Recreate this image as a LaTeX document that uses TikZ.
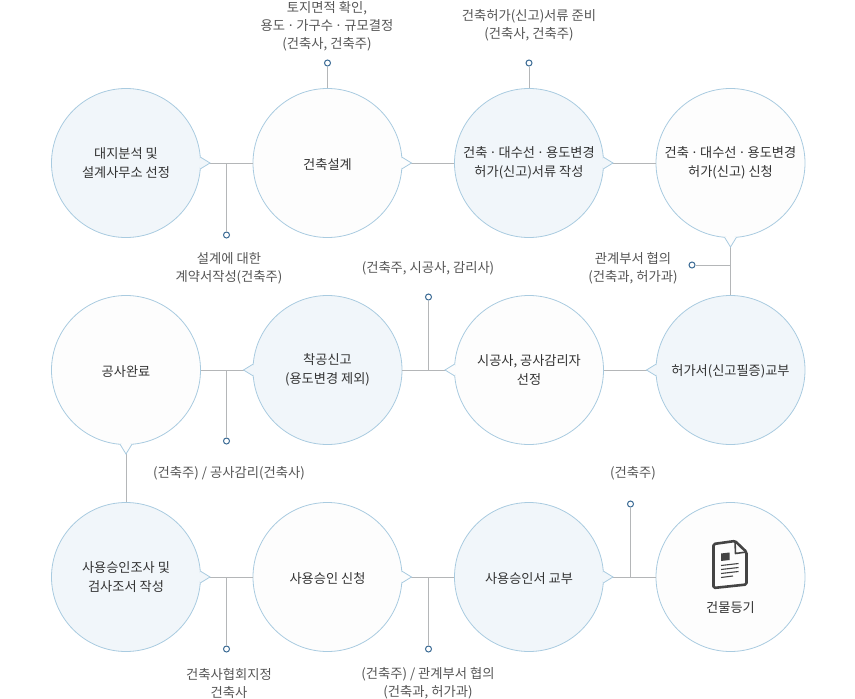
\documentclass[tikz,border=0pt]{standalone}
\usepackage{fontspec}
\setmainfont{Noto Sans CJK KR}
\usepackage{tikz}
\definecolor{ringblue}{HTML}{A9CBE0}
\definecolor{paleblue}{HTML}{F1F6FA}
\definecolor{paperwhite}{HTML}{FDFDFD}
\definecolor{linegray}{HTML}{B4B6B8}
\definecolor{dotblue}{HTML}{3A6A94}
\definecolor{notegray}{HTML}{555555}
\definecolor{maintext}{HTML}{333333}
\definecolor{iconink}{HTML}{444444}
\tikzstyle{stage} = [circle, minimum size = 149pt, inner sep = 0pt, align = center, draw = ringblue, line width = 0.8pt, text = maintext, font = \fontsize{13.2}{19}\selectfont, execute at begin node = {\rule{0pt}{14pt}}]
\tikzstyle{tinted} = [stage, fill = paleblue]
\tikzstyle{plain} = [stage, fill = paperwhite]
\tikzstyle{dot} = [circle, minimum size = 6pt, inner sep = 0pt, draw = dotblue, line width = 1pt, fill = white]
\tikzstyle{note} = [align = center, inner sep = 0pt, text = notegray, font = \fontsize{13.3}{18}\selectfont]
\tikzstyle{link} = [draw = linegray, line width = 0.9pt]
\newcommand{\middot}{\kern-1.1pt~·~\kern-1.1pt}
% speech bubble point: node, direction, fill colour
\newcommand{\bubbletip}[3]{
\fill [#3] ([shift={(#2+4.6:74.5)}]#1.center) -- ([shift={(#2:84)}]#1.center) -- ([shift={(#2-4.6:74.5)}]#1.center) -- ([shift={(#2:72)}]#1.center) -- cycle;
\draw [ringblue, line width = 0.8pt] ([shift={(#2+4.6:74.5)}]#1.center) -- ([shift={(#2:84)}]#1.center) -- ([shift={(#2-4.6:74.5)}]#1.center);
}

\begin{document}
\begin{tikzpicture}[x = 1pt, y = -1pt, node distance = 201.5pt]
\useasboundingbox (0,0) rectangle (855,699);

\node(survey) [tinted] at (126,163) {대지분석 및\\설계사무소 선정};
\node(design) [plain, right of = survey] {건축설계};
\node(papers) [tinted, right of = design] {건축\middot 대수선\middot 용도변경\\허가(신고)서류 작성};
\node(apply) [plain, right of = papers] {건축\middot 대수선\middot 용도변경\\허가(신고) 신청};

\node(permit) [tinted, below of = apply, node distance = 207pt] {허가서(신고필증)교부};
\node(contractor) [plain, left of = permit] {시공사, 공사감리자\\선정};
\node(start) [tinted, left of = contractor] {착공신고\\(용도변경 제외)};
\node(finish) [plain, left of = start] {공사완료};

\node(inspect) [tinted, below of = finish, node distance = 207pt] {사용승인조사 및\\검사조서 작성};
\node(request) [plain, right of = inspect] {사용승인 신청};
\node(grant) [tinted, right of = request] {사용승인서 교부};
\node(register) [plain, right of = grant] {};
\node(registertext) [stage, draw = none, minimum size = 0pt] at (730.5,606) {건물등기};

\node(dotcontract) [dot] at (226.5,235) {};
\node(dotland) [dot] at (327.5,63) {};
\node(dotpapers) [dot] at (529,63) {};
\node(dotoffice) [dot] at (692,265) {};
\node(dotbuilder) [dot] at (428.5,297) {};
\node(dotsuper) [dot] at (226.5,441) {};
\node(dotowner) [dot] at (630.5,504) {};
\node(dotarch) [dot] at (226.5,649) {};
\node(dotrequest) [dot] at (428.5,649) {};

\node(notecontract) [note] at (229,268.5) {설계에 대한\\계약서작성(건축주)};
\node(noteland) [note] at (327,26.5) {토지면적 확인,\\용도\middot 가구수\middot 규모결정\\(건축사, 건축주)};
\node(notepapers) [note] at (529,25.5) {건축허가(신고)서류 준비\\(건축사, 건축주)};
\node(noteoffice) [note] at (633,268.5) {관계부서 협의\\(건축과, 허가과)};
\node(notebuilder) [note] at (428,268.5) {(건축주, 시공사, 감리사)};
\node(notesuper) [note] at (229,473.5) {(건축주) / 공사감리(건축사)};
\node(noteowner) [note] at (633,473.5) {(건축주)};
\node(notearch) [note] at (229,683.5) {건축사협회지정\\건축사};
\node(noterequest) [note] at (428,683.5) {(건축주) / 관계부서 협의\\(건축과, 허가과)};

\draw [link] (survey) -- (design);
\draw [link] (design) -- (papers);
\draw [link] (papers) -- (apply);
\draw [link] (apply) -- (permit);
\draw [link] (permit) -- (contractor);
\draw [link] (contractor) -- (start);
\draw [link] (start) -- (finish);
\draw [link] (finish) -- (inspect);
\draw [link] (inspect) -- (request);
\draw [link] (request) -- (grant);
\draw [link] (grant) -- (register);

\draw [link] (dotcontract) -- (dotcontract |- survey.east);
\draw [link] (dotland) -- (design.north);
\draw [link] (dotpapers) -- (papers.north);
\draw [link] (dotoffice) -- (dotoffice -| apply.south);
\draw [link] (dotbuilder) -- (dotbuilder |- start.east);
\draw [link] (dotsuper) -- (dotsuper |- start.west);
\draw [link] (dotowner) -- (dotowner |- grant.east);
\draw [link] (dotarch) -- (dotarch |- inspect.east);
\draw [link] (dotrequest) -- (dotrequest |- request.east);

\bubbletip{survey}{0}{paleblue}
\bubbletip{design}{0}{paperwhite}
\bubbletip{papers}{0}{paleblue}
\bubbletip{apply}{90}{paperwhite}
\bubbletip{permit}{180}{paleblue}
\bubbletip{contractor}{180}{paperwhite}
\bubbletip{start}{180}{paleblue}
\bubbletip{finish}{90}{paperwhite}
\bubbletip{inspect}{0}{paleblue}
\bubbletip{request}{0}{paperwhite}
\bubbletip{grant}{0}{paleblue}

% document icon
\draw [iconink, line width = 2.6pt, line join = round, rounded corners = 1.5pt] (713.5,544) -- (735,541) -- (746.5,552) -- (746.5,584.5) -- (713.5,588) -- cycle;
\draw [iconink, line width = 1.6pt, line join = round] (735,541) -- (735.5,553.5) -- (746.5,552);
\fill [iconink] (721,553.5) -- (729.5,552.5) -- (729.5,560) -- (721,561) -- cycle;
\draw [iconink, line width = 1.1pt] (721,565.5) -- (738.5,563.5) (721,569.5) -- (738.5,567.5) (721,573.5) -- (738.5,571.5) (721,577.5) -- (733,576);

\end{tikzpicture}
\end{document}
